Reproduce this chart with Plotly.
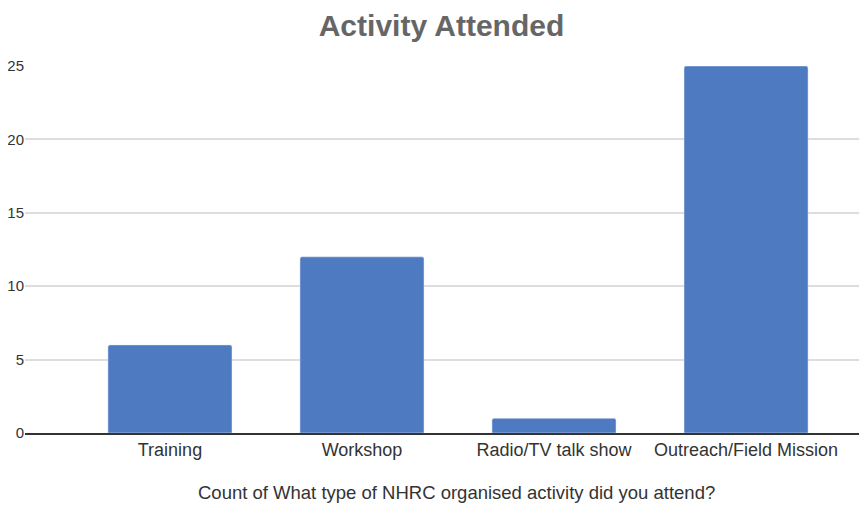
import plotly.graph_objects as go

activities = ["Training", "Workshop", "Radio/TV talk show", "Outreach/Field Mission"]
counts = [6, 12, 1, 25]
y_ticks = [0, 5, 10, 15, 20, 25]

fig = go.Figure(
    go.Bar(
        x=activities,
        y=counts,
        marker_color="#4e7ac1",
        marker_cornerradius=2,
        width=0.646,
    )
)
# page body adds an 8px offset, margins compensate for it
fig.update_layout(
    width=867,
    height=507,
    margin=dict(l=17, r=8, t=58, b=82),
    paper_bgcolor="white",
    plot_bgcolor="white",
    font=dict(family="Liberation Sans, Arial, sans-serif", color="#333333"),
    title=dict(
        text="<b>Activity Attended</b>",
        x=0.5,
        xanchor="center",
        y=0.966,
        yanchor="middle",
        font=dict(size=30, color="#666666"),
    ),
    showlegend=False,
)
fig.add_annotation(
    text="Count of What type of NHRC organised activity did you attend?",
    xref="paper",
    yref="paper",
    x=0.513,
    y=-0.163,
    xanchor="center",
    yanchor="middle",
    showarrow=False,
    font=dict(size=18.5, color="#333333"),
)
fig.update_xaxes(
    range=[-0.755, 3.63],
    showgrid=False,
    automargin=False,
    tickfont=dict(size=18, color="#333333"),
    showline=True,
    linecolor="#333333",
    linewidth=1.5,
    ticks="",
)
fig.update_yaxes(
    range=[0, 25.0],
    tickvals=y_ticks,
    gridcolor="#dddddd",
    gridwidth=1.5,
    zeroline=False,
    automargin=False,
    tickfont=dict(size=15, color="#333333"),
    ticklabelstandoff=0,
)
fig.write_html("out.html")
